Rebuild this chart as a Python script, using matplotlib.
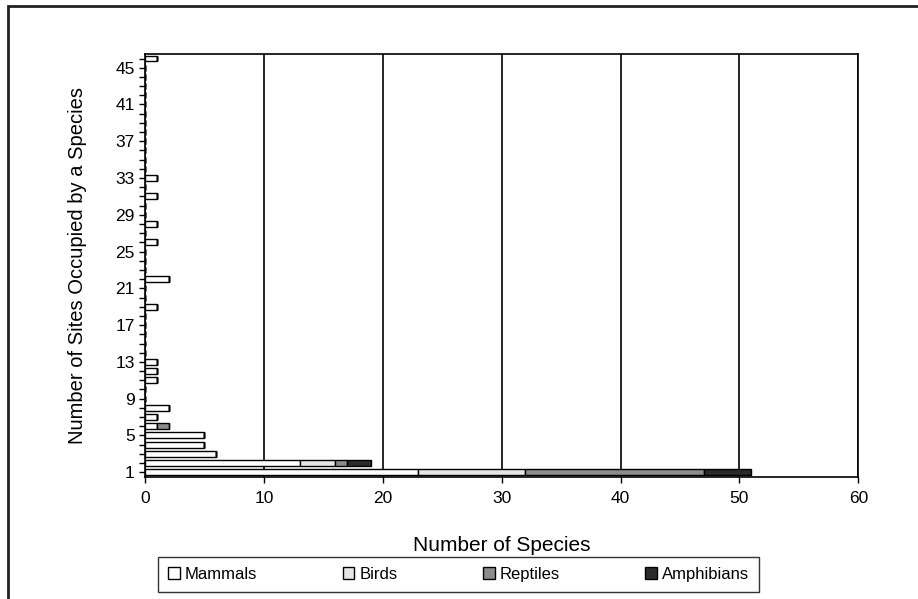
import numpy as np
import matplotlib.pyplot as plt
from matplotlib.patches import Rectangle

plt.rcParams['font.family'] = ['Liberation Sans', 'DejaVu Sans']

sites = np.arange(1, 47)

# species counts per number of occupied sites (only non-zero entries listed)
mammals_d = {1: 23, 2: 13, 3: 6, 4: 5, 5: 5, 6: 1, 7: 1, 8: 2, 11: 1, 12: 1, 13: 1,
             19: 1, 22: 2, 26: 1, 28: 1, 31: 1, 33: 1, 46: 1}
birds_d = {1: 9, 2: 3}
reptiles_d = {1: 15, 2: 1, 6: 1}
amphibians_d = {1: 4, 2: 2}

def series(d):
    return np.array([d.get(s, 0) for s in sites], dtype=float)

mammals = series(mammals_d)
birds = series(birds_d)
reptiles = series(reptiles_d)
amphibians = series(amphibians_d)

fig = plt.figure(figsize=(9.18, 5.99), dpi=100)
ax = fig.add_axes([0.158, 0.204, 0.777, 0.706])

h = 0.65
kw = dict(height=h, edgecolor='black', linewidth=1.0)
ax.barh(sites, mammals, color='white', label='Mammals', **kw)
ax.barh(sites, birds, left=mammals, color='#e6e6e6', label='Birds', **kw)
ax.barh(sites, reptiles, left=mammals + birds, color='#8c8c8c', label='Reptiles', **kw)
ax.barh(sites, amphibians, left=mammals + birds + reptiles, color='#2b2b2b',
        label='Amphibians', **kw)

ax.set_xlim(0, 60)
ax.set_ylim(0.5, 46.5)
ax.set_xticks(np.arange(0, 61, 10))
ax.set_yticks(np.arange(1, 46, 4))
ax.set_yticks(sites, minor=True)
ax.tick_params(axis='both', labelsize=12.5, direction='out', length=4, width=1)
ax.tick_params(axis='x', pad=6)
ax.tick_params(axis='y', which='minor', length=4, width=1)
ax.xaxis.grid(True, color='black', linewidth=1.2)
ax.set_axisbelow(True)
for sp in ax.spines.values():
    sp.set_linewidth(1.2)

ax.set_xlabel('Number of Species', fontsize=15, labelpad=22)
ax.set_ylabel('Number of Sites Occupied by a Species', fontsize=14.5, labelpad=20)

fig.legend(loc='lower left', bbox_to_anchor=(0.163, -0.002, 0.673, 0.058), mode='expand',
           ncol=4, fontsize=12, frameon=True, fancybox=False, edgecolor='black',
           handlelength=0.7, handleheight=0.7, handletextpad=0.3, borderpad=0.6)

fig.patches.append(Rectangle((0.009, -0.01), 1.0, 1.0, transform=fig.transFigure,
                             fill=False, edgecolor='#222222', linewidth=2.0))

fig.savefig('out.png', dpi=100)
